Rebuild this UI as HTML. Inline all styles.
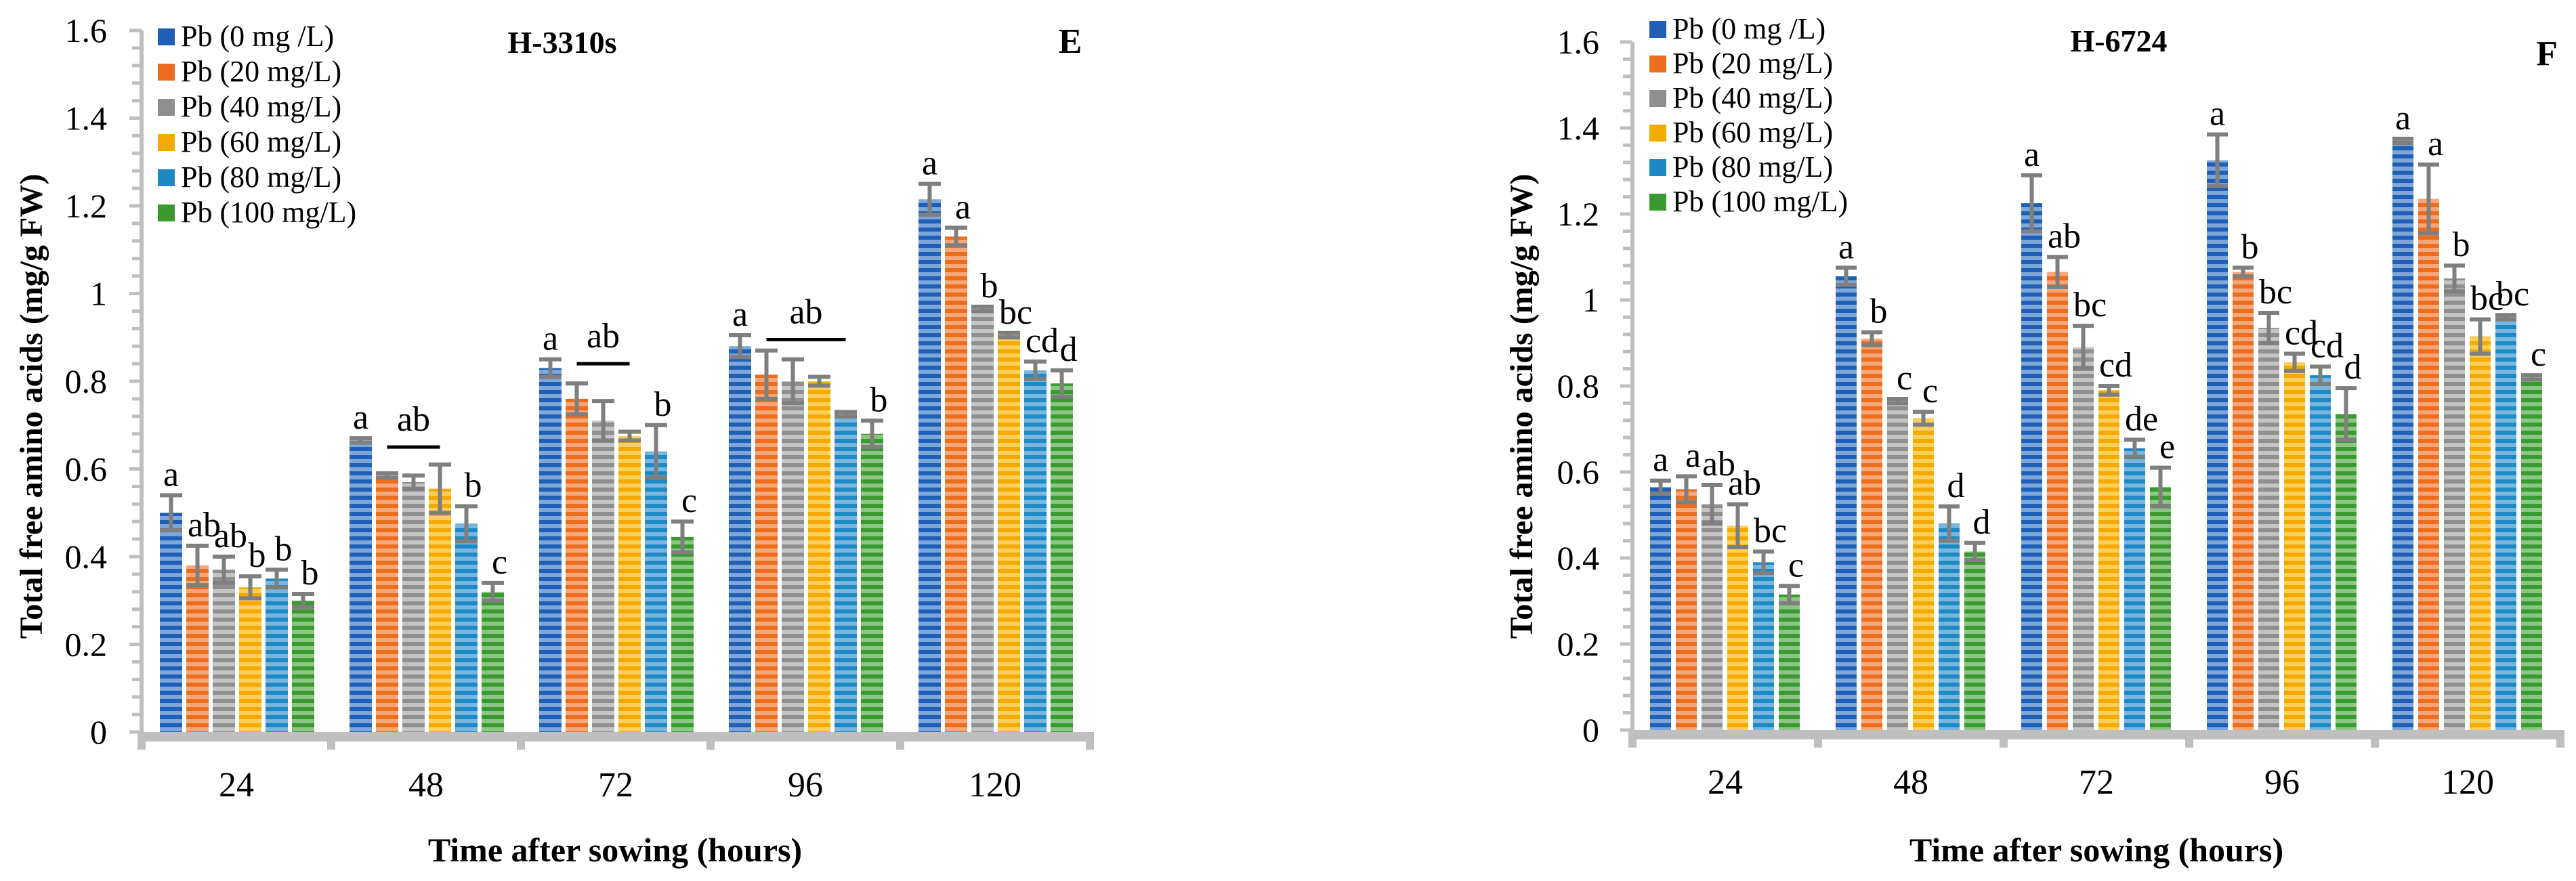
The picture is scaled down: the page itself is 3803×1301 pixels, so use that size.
<!DOCTYPE html>
<html><head><meta charset="utf-8"><style>
html,body{margin:0;padding:0;background:#fff;}
svg{display:block;font-family:"Liberation Serif",serif;}
</style></head><body>
<svg id="chart" width="3803" height="1301" viewBox="0 0 3803 1301" xmlns="http://www.w3.org/2000/svg">
<defs></defs>
</svg>
<script>
const categories = ["24","48","72","96","120"];
const seriesNames = ["Pb (0 mg /L)","Pb (20 mg/L)","Pb (40 mg/L)","Pb (60 mg/L)","Pb (80 mg/L)","Pb (100 mg/L)"];
const yTicks = [0,0.2,0.4,0.6,0.8,1,1.2,1.4,1.6];
const yTickLabels = ["0","0.2","0.4","0.6","0.8","1","1.2","1.4","1.6"];
// Panel E (H-3310s): values per series (rows = series, cols = categories)
const eS0 = [0.50,0.665,0.83,0.88,1.215];
const eS1 = [0.38,0.585,0.76,0.815,1.13];
const eS2 = [0.37,0.57,0.71,0.80,0.965];
const eS3 = [0.33,0.555,0.675,0.80,0.905];
const eS4 = [0.35,0.475,0.64,0.725,0.825];
const eS5 = [0.30,0.32,0.445,0.68,0.795];
const eE0 = [0.04,0.005,0.02,0.025,0.035];
const eE1 = [0.045,0.005,0.035,0.055,0.02];
const eE2 = [0.03,0.015,0.045,0.05,0.005];
const eE3 = [0.025,0.055,0.01,0.01,0.005];
const eE4 = [0.02,0.04,0.06,0.005,0.02];
const eE5 = [0.015,0.02,0.035,0.03,0.03];
const eL0 = ["a","a","a","a","a"];
const eL1 = ["ab","","","","a"];
const eL2 = ["ab","","","","b"];
const eL3 = ["b","","","","bc"];
const eL4 = ["b","b","b","","cd"];
const eL5 = ["b","c","c","b","d"];
// group significance lines: [category index, from series, to series, y value, label]
const eGroupCat = [1,2,3];
const eGroupFrom = [1,1,1];
const eGroupTo = [3,3,4];
const eGroupY = [0.65,0.84,0.895];
const eGroupLabel = ["ab","ab","ab"];
// Panel F (H-6724)
const fS0 = [0.565,1.055,1.225,1.325,1.37];
const fS1 = [0.56,0.91,1.065,1.065,1.235];
const fS2 = [0.525,0.765,0.89,0.935,1.05];
const fS3 = [0.475,0.725,0.79,0.855,0.915];
const fS4 = [0.39,0.48,0.655,0.825,0.96];
const fS5 = [0.315,0.415,0.565,0.735,0.82];
const fE0 = [0.015,0.02,0.065,0.06,0.005];
const fE1 = [0.03,0.015,0.035,0.01,0.08];
const fE2 = [0.045,0.005,0.05,0.035,0.03];
const fE3 = [0.05,0.015,0.01,0.02,0.04];
const fE4 = [0.025,0.04,0.02,0.02,0.005];
const fE5 = [0.02,0.02,0.045,0.06,0.005];
const fL0 = ["a","a","a","a","a"];
const fL1 = ["a","b","ab","b","a"];
const fL2 = ["ab","c","bc","bc","b"];
const fL3 = ["ab","c","cd","cd","bc"];
const fL4 = ["bc","d","de","cd","bc"];
const fL5 = ["c","d","e","d","c"];

const NS="http://www.w3.org/2000/svg";
const svg=document.getElementById('chart');
const defs=svg.querySelector('defs');
const dark=["#1f5fb5","#ed6d1f","#8f8f8f","#f5aa00","#1d8ac6","#3a9a30"];
const light=["#7ea6d9","#f5a77a","#c4c4c4","#fbcf5c","#78b6dd","#8cc584"];
dark.forEach((c,i)=>{
  const p=document.createElementNS(NS,'pattern');
  p.setAttribute('id','pat'+i);p.setAttribute('patternUnits','userSpaceOnUse');
  p.setAttribute('width','10');p.setAttribute('height','12');
  p.innerHTML=`<rect width="10" height="12" fill="${light[i]}"/><rect width="10" height="6" fill="${c}"/>`;
  defs.appendChild(p);
});
function el(tag,attrs,parent,name,inter){
  const e=document.createElementNS(NS,tag);
  for(const k in attrs)e.setAttribute(k,attrs[k]);
  (parent||svg).appendChild(e);return e;
}
function txt(s,x,y,size,opts,parent){
  const t=el('text',Object.assign({x:x,y:y,'font-size':size,fill:'#000'},opts||{}),parent);
  t.textContent=s;return t;
}
function panel(cfg){
  const g=el('g',{});
  
  
  const y=v=>cfg.y0-(v/1.6)*(cfg.y0-cfg.y16);
  const catW=cfg.catW;
  const xCat=i=>cfg.ax+i*catW;
  // y axis
  const ya=el('line',{x1:cfg.ax,y1:cfg.y16,x2:cfg.ax,y2:cfg.y0+7,stroke:'#bfbfbf','stroke-width':6},g);
  
  
  for(let k=0;k<=40;k++){
    const yy=y(k*0.04);
    const tk=el('line',{x1:cfg.ax-(k%5==0?18:14),y1:yy,x2:cfg.ax,y2:yy,stroke:'#bfbfbf','stroke-width':5},g);
    
    
  }
  yTicks.forEach((v,i)=>{
    const t=txt(yTickLabels[i],cfg.labR,y(v)+17,50,{'text-anchor':'end'},g);
    
    
  });
  // x axis
  const xa=el('rect',{x:cfg.ax-2,y:cfg.y0,width:5*catW+6,height:14,fill:'#bfbfbf'},g);
  
  
  for(let i=0;i<=5;i++){
    const tk=el('rect',{x:xCat(i)-6,y:cfg.y0,width:12,height:26,fill:'#bfbfbf'},g);
    
    
  }
  categories.forEach((c,i)=>{
    const t=txt(c,xCat(i)+catW/2,cfg.catY,52,{'text-anchor':'middle'},g);
    
    
  });
  // bars
  cfg.vals.forEach((arr,s)=>{
    arr.forEach((v,i)=>{
      const bx=xCat(i)+cfg.off+s*cfg.pitch;
      const b=el('rect',{x:bx,y:y(v),width:cfg.bw,height:cfg.y0-y(v),fill:'url(#pat'+s+')'},g);
      
      
      const e=cfg.errs[s][i];
      const cx=bx+cfg.bw/2;
      const eb=el('path',{d:`M${cx},${y(v+e)}V${y(v-e)}M${bx},${y(v+e)}H${bx+cfg.bw}M${bx},${y(v-e)}H${bx+cfg.bw}`,stroke:'#7f7f7f','stroke-width':6,fill:'none'},g);
      
      
      const L=cfg.lets[s][i];
      if(L){
        const lt=txt(L,cx+(s==0?0:10),y(v+e)-14,52,{'text-anchor':'middle'},g);
        
        
      }
    });
  });
  if(cfg.gCat){
    cfg.gCat.forEach((c,k)=>{
      const x1=xCat(c)+cfg.off+cfg.gFrom[k]*cfg.pitch+cfg.bw/2;
      const x2=xCat(c)+cfg.off+cfg.gTo[k]*cfg.pitch+cfg.bw/2;
      const ln=el('line',{x1:x1,y1:y(cfg.gY[k]),x2:x2,y2:y(cfg.gY[k]),stroke:'#000','stroke-width':5},g);
      
      
      const lt=txt(cfg.gL[k],(x1+x2)/2,y(cfg.gY[k])-24,52,{'text-anchor':'middle'},g);
      
      
    });
  }
  // legend
  seriesNames.forEach((n,s)=>{
    const ly=cfg.legY+s*cfg.legDy;
    const bgr=el('rect',{x:cfg.legX-8,y:ly-30,width:cfg.legX>2000?300:300,height:cfg.legDy,fill:'#fff'},g);
    
    
  });
  seriesNames.forEach((n,s)=>{
    const ly=cfg.legY+s*cfg.legDy;
    const sw=el('rect',{x:cfg.legX,y:ly-12,width:25,height:25,fill:dark[s]},g);
    
    
    const t=txt(n,cfg.legX+34,ly+14,44,{},g);
    
    
  });
  const ti=txt(cfg.title,cfg.titleX,cfg.titleY,46,{'font-weight':'bold','text-anchor':'middle'},g);
  
  
  const pl=txt(cfg.letter,cfg.letX,cfg.letY,52,{'font-weight':'bold','text-anchor':'middle'},g);
  
  
  const yt=txt('Total free amino acids  (mg/g FW)',0,0,48,{'font-weight':'bold','text-anchor':'middle',transform:`translate(${cfg.ytX},${cfg.ytY}) rotate(-90)`},g);
  
  
  const xt=txt('Time after sowing (hours)',cfg.xtX,1272,50,{'font-weight':'bold','text-anchor':'middle'},g);
  
  
}
panel({name:'panel-e-h3310s',ax:209,y0:1081,y16:45,catW:280,off:27,pitch:39,bw:33,labR:158,catY:1176,
  vals:[eS0,eS1,eS2,eS3,eS4,eS5],errs:[eE0,eE1,eE2,eE3,eE4,eE5],lets:[eL0,eL1,eL2,eL3,eL4,eL5],
  gCat:eGroupCat,gFrom:eGroupFrom,gTo:eGroupTo,gY:eGroupY,gL:eGroupLabel,
  legX:233,legY:54,legDy:52,title:'H-3310s',titleX:830,titleY:78,letter:'E',letX:1580,letY:78,ytX:62,ytY:600,xtX:908});
panel({name:'panel-f-h6724',ax:2410,y0:1078,y16:62,catW:274,off:26,pitch:38,bw:31,labR:2361,catY:1172,
  vals:[fS0,fS1,fS2,fS3,fS4,fS5],errs:[fE0,fE1,fE2,fE3,fE4,fE5],lets:[fL0,fL1,fL2,fL3,fL4,fL5],
  legX:2435,legY:43,legDy:51,title:'H-6724',titleX:3128,titleY:76,letter:'F',letX:3760,letY:96,ytX:2262,ytY:600,xtX:3095});
</script>
</body></html>
